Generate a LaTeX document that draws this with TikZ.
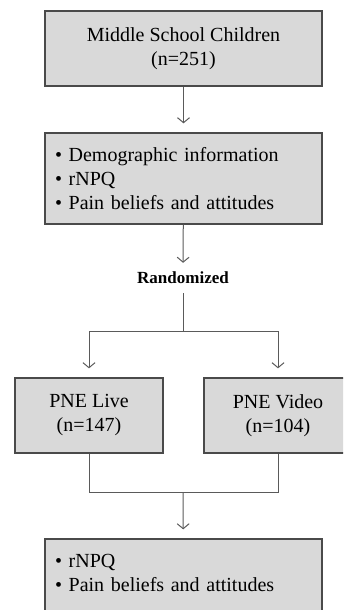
\documentclass[tikz,border=0pt]{standalone}
\usepackage{fontspec}
\setmainfont{Liberation Serif}
\usetikzlibrary{arrows.meta}
\definecolor{boxfill}{HTML}{D9D9D9}
\definecolor{boxline}{HTML}{4A4A4A}
\definecolor{flowline}{HTML}{5A5A5A}
\tikzset{
  box/.style={draw=boxline, line width=1.3pt, fill=boxfill, minimum width=277pt,
    minimum height=75pt, align=center, inner sep=0pt,
    font=\fontsize{20}{24}\selectfont},
  listbox/.style={box, minimum height=91pt, align=left, text width=257pt},
  flow/.style={draw=flowline, line width=1pt},
  flowarrow/.style={flow, -{Straight Barb[length=5pt,width=12pt]}, shorten >=9pt},
}
\begin{document}
\begin{tikzpicture}[x=1pt,y=1pt]
\useasboundingbox (0,0) rectangle (343,610);
\clip (0,0) rectangle (343,610);
\node[box] (children) at (183.5,561.5) {Middle School Children\\(n=251)};
\node[listbox] (baseline) at (183.5,431.5) {\textbullet\ Demographic information\\\textbullet\ rNPQ\\\textbullet\ Pain beliefs and attitudes};
\node[inner sep=0pt, font=\fontsize{17}{20}\selectfont\bfseries] (random) at (183,332) {Randomized};
\coordinate (split) at (183,278);
\node[box, minimum width=148pt] (live) at (89,194.5) {PNE Live\\(n=147)};
\node[box, minimum width=148pt] (video) at (278,194.5) {PNE Video\\(n=104)};
\coordinate (join) at (183,117);
\node[listbox] (followup) at (183.5,25.5) {\textbullet\ rNPQ\\\textbullet\ Pain beliefs and attitudes\\\mbox{}};

\draw[flowarrow] (children) -- (baseline);
\draw[flowarrow] (baseline) -- (random);
\draw[flow, shorten <=9pt] (random) -- (split);
\draw[flowarrow] (split) -| (live);
\draw[flowarrow] (split) -| (video);
\draw[flow] (live) |- (join);
\draw[flow] (video) |- (join);
\draw[flowarrow] (join) -- (followup);
\end{tikzpicture}
\end{document}
